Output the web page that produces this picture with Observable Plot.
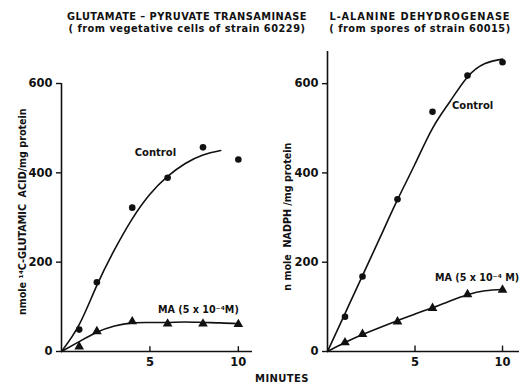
<!DOCTYPE html>
<html>
<head>
<meta charset="utf-8">
<script src="https://cdn.jsdelivr.net/npm/d3@7"></script>
<script src="https://cdn.jsdelivr.net/npm/@observablehq/plot@0.6"></script>
<style>
  html, body { margin: 0; padding: 0; background: #fff; }
  #wrap { position: relative; width: 519px; height: 383px; overflow: hidden; background: #fff;
          font-family: "DejaVu Sans", sans-serif; font-weight: bold; color: #111; }
  .t { position: absolute; white-space: nowrap; text-align: center; }
  .panel { position: absolute; top: 0; }
</style>
</head>
<body>
<div id="wrap">
  <div class="t" style="left:62px; top:11px; width:250px; font-size:9.8px; letter-spacing:0.45px;">GLUTAMATE – PYRUVATE TRANSAMINASE</div>
  <div class="t" style="left:62px; top:23px; width:250px; font-size:9.8px; letter-spacing:0.5px;">( from vegetative cells of strain 60229)</div>
  <div class="t" style="left:320px; top:11px; width:200px; font-size:9.8px; letter-spacing:0.9px;">L-ALANINE DEHYDROGENASE</div>
  <div class="t" style="left:320px; top:23px; width:200px; font-size:9.8px; letter-spacing:0.5px;">( from spores of strain 60015)</div>
  <div class="t" style="left:237px; top:373px; width:90px; font-size:10px; letter-spacing:0.4px;">MINUTES</div>
  <div id="left" class="panel" style="left:0px;"></div>
  <div id="right" class="panel" style="left:260px;"></div>
</div>
<script>
// ---- measured points ----
const minutes = [1, 2, 4, 6, 8, 10];
const gptControl = [49, 155, 322, 389, 457, 430];
const gptMA = [11, 45, 67, 62, 62, 61];
const aldControl = [78, 168, 341, 537, 618, 648];
const aldMA = [20, 39, 67, 97, 128, 138];

// ---- fitted curves as drawn ----
const fitMinutes = [0, 1, 2, 3, 4, 5, 6, 7, 8, 9, 10];
const gptControlFit = [0, 60, 148, 228, 297, 352, 392, 421, 440, 450];
const gptMAFit = [0, 22, 43, 57, 64, 65, 65, 66, 65, 64, 62];
const aldControlFit = [0, 85, 170, 255, 340, 420, 500, 560, 615, 645, 655];
const aldMAFit = [0, 20, 38, 54, 69, 84, 98, 113, 127, 136, 139];

// ---- tick labels ----
const xTicks = [5, 10];
const yTicks = [0, 200, 400, 600];

const toPts = (ys) => ys.map((y, i) => ({x: minutes[i], y}));
const toFit = (ys) => ys.map((y, i) => ({x: fitMinutes[i], y}));

const font = '"DejaVu Sans", sans-serif';

function panel({width, marginLeft, marginRight, marginTop, xMax, yMax, yLabel,
                ctrl, ma, ctrlFit, maFit, ctrlLabel, maLabel}) {
  return Plot.plot({
    width, height: 383,
    marginLeft, marginRight, marginTop, marginBottom: 32,
    style: {fontFamily: font, fontWeight: "bold", fontSize: "11px", color: "#111", background: "transparent"},
    x: {domain: [0, xMax]},
    y: {domain: [0, yMax]},
    marks: [
      Plot.ruleX([0], {stroke: "#111", strokeWidth: 1.6}),
      Plot.ruleY([0], {stroke: "#111", strokeWidth: 1.6}),
      Plot.axisY(yTicks, {tickSize: 5, tickPadding: 4, label: null, strokeWidth: 1.4, fontSize: 11.5}),
      Plot.text([yLabel.text], {frameAnchor: "left", y: yLabel.y, dx: yLabel.dx, rotate: -90,
                                textAnchor: "middle", lineAnchor: "middle", fontSize: yLabel.size, fill: "#111"}),
      Plot.axisX(xTicks, {tickSize: 0, tickPadding: 6, label: null, fontSize: 11.5}),
      Plot.ruleX(xTicks, {y1: 0, y2: yMax * 0.018, stroke: "#111", strokeWidth: 1.4}),
      Plot.line(toFit(ctrlFit), {x: "x", y: "y", curve: "natural", stroke: "#111", strokeWidth: 1.6}),
      Plot.line(toFit(maFit), {x: "x", y: "y", curve: "natural", stroke: "#111", strokeWidth: 1.6}),
      Plot.dot(toPts(ctrl), {x: "x", y: "y", r: 3.3, fill: "#111", stroke: "none"}),
      Plot.dot(toPts(ma), {x: "x", y: "y", r: 3.6, symbol: "triangle", fill: "#111", stroke: "none"}),
      Plot.text([ctrlLabel.text], {x: ctrlLabel.x, y: ctrlLabel.y, fontSize: 10, fill: "#111"}),
      Plot.text([maLabel.text], {x: maLabel.x, y: maLabel.y, textAnchor: maLabel.anchor, fontSize: 9.6, fill: "#111"})
    ]
  });
}

document.getElementById("left").append(panel({
  width: 260, marginLeft: 61, marginRight: 8, marginTop: 83,
  xMax: 10.8, yMax: 600,
  yLabel: {text: "nmole ¹⁴C-GLUTAMIC  ACID/mg protein", y: 313, dx: -39, size: 9.6},
  ctrl: gptControl, ma: gptMA, ctrlFit: gptControlFit, maFit: gptMAFit,
  ctrlLabel: {text: "Control", x: 5.31, y: 445},
  maLabel: {text: "MA (5 x 10⁻⁴M)", x: 7.74, y: 93, anchor: "middle"}
}));

document.getElementById("right").append(panel({
  width: 259, marginLeft: 67, marginRight: 0, marginTop: 51,
  xMax: 10.97, yMax: 672,
  yLabel: {text: "n mole  NADPH /mg protein", y: 302, dx: -40, size: 9.6},
  ctrl: aldControl, ma: aldMA, ctrlFit: aldControlFit, maFit: aldMAFit,
  ctrlLabel: {text: "Control", x: 8.29, y: 551},
  maLabel: {text: "MA (5 x 10⁻⁴ M)", x: 10.95, y: 165, anchor: "end"}
}));
</script>
</body>
</html>
